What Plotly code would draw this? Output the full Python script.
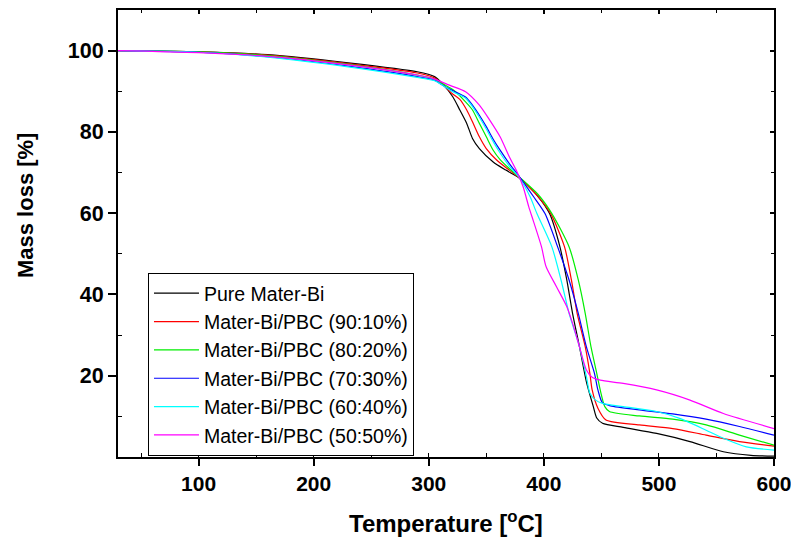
import plotly.graph_objects as go

# ---- data ----
series_names = [
    "Pure Mater-Bi",
    "Mater-Bi/PBC (90:10%)",
    "Mater-Bi/PBC (80:20%)",
    "Mater-Bi/PBC (70:30%)",
    "Mater-Bi/PBC (60:40%)",
    "Mater-Bi/PBC (50:50%)",
]
series_colors = ["#000000", "#ff0000", "#00ee00", "#0000ff", "#00ffff", "#ff00ff"]

pure_T = [30, 100, 160, 230, 290, 305, 312, 321, 327, 333, 338, 344, 356, 367, 379, 395, 405, 414, 420, 425, 431, 437, 443, 446, 451, 469, 498, 527, 556, 580, 600]
pure_M = [100, 99.7, 99.0, 97.0, 94.8, 93.6, 91.8, 88.6, 85.4, 82.1, 78.4, 75.9, 72.6, 70.6, 68.6, 64.1, 59.9, 51.7, 43.5, 35.3, 27.1, 18.5, 12.4, 9.6, 8.3, 7.3, 5.8, 3.8, 1.3, 0.4, 0.2]

pbc90_T = [30, 100, 160, 230, 290, 305, 312, 320, 327, 333, 338, 344, 350, 359, 370, 379, 395, 406, 418, 424, 429, 436, 440, 442, 447, 454, 483, 512, 541, 570, 600]
pbc90_M = [100, 99.7, 98.9, 96.8, 94.5, 93.3, 91.8, 89.5, 88.0, 85.4, 82.5, 78.8, 75.9, 73.1, 70.6, 68.6, 64.1, 59.9, 51.7, 43.5, 35.3, 27.1, 20.6, 16.5, 12.0, 9.1, 7.9, 7.0, 5.4, 3.8, 2.7]

pbc80_T = [30, 100, 160, 230, 290, 305, 312, 322, 332, 338, 344, 350, 356, 362, 370, 379, 395, 407, 422, 430, 436, 441, 446, 449, 453, 457, 483, 512, 541, 570, 600]
pbc80_M = [100, 99.7, 98.8, 96.6, 94.0, 93.0, 91.9, 90.2, 87.4, 85.4, 82.1, 78.8, 75.5, 73.2, 71.0, 68.8, 64.6, 59.9, 51.7, 43.5, 35.3, 27.1, 20.6, 16.5, 12.4, 11.2, 10.1, 9.3, 7.9, 5.4, 2.9]

pbc70_T = [30, 100, 160, 230, 290, 305, 312, 320, 332, 338, 344, 350, 356, 362, 370, 379, 391, 401, 412, 422, 430, 437, 444, 447, 451, 458, 483, 512, 541, 570, 600]
pbc70_M = [100, 99.6, 98.5, 96.2, 93.6, 92.7, 91.5, 90.3, 88.6, 86.6, 84.1, 81.3, 78.2, 75.5, 72.2, 68.9, 64.1, 59.9, 51.7, 43.5, 35.3, 27.1, 20.6, 16.5, 13.3, 12.6, 11.6, 10.6, 9.3, 7.5, 5.4]

pbc60_T = [30, 100, 160, 230, 290, 305, 312, 320, 332, 338, 344, 350, 356, 362, 370, 379, 388, 394, 407, 415, 422, 431, 437, 440, 445, 451, 469, 498, 518, 541, 556, 576, 600]
pbc60_M = [100, 99.6, 98.4, 96.0, 93.4, 92.6, 91.5, 90.0, 88.3, 86.2, 83.6, 80.7, 77.6, 74.8, 71.6, 68.6, 64.1, 59.9, 51.7, 43.5, 35.3, 27.1, 19.8, 15.7, 14.0, 13.2, 12.4, 11.2, 9.5, 6.6, 4.6, 2.5, 1.7]

pbc50_T = [30, 100, 160, 230, 290, 305, 318, 332, 344, 353, 362, 370, 376, 382, 387, 391, 398, 402, 411, 420, 425, 431, 437, 442, 449, 469, 498, 527, 556, 600]
pbc50_M = [100, 99.5, 98.6, 96.5, 94.0, 93.0, 91.5, 89.9, 86.6, 82.9, 78.8, 73.9, 70.6, 66.5, 61.5, 58.0, 51.7, 46.8, 41.9, 37.0, 32.9, 27.1, 21.4, 19.6, 18.9, 18.1, 16.5, 14.0, 10.7, 7.0]

series_T = [pure_T, pbc90_T, pbc80_T, pbc70_T, pbc60_T, pbc50_T]
series_M = [pure_M, pbc90_M, pbc80_M, pbc70_M, pbc60_M, pbc50_M]

x_range = [30, 600]
y_range = [0, 110]
y_tickvals = [20, 40, 60, 80, 100]
y_minorvals = [10, 30, 50, 70, 90]

FONT = "Liberation Sans, Arial, sans-serif"

fig = go.Figure()
for name, color, T, M in zip(series_names, series_colors, series_T, series_M):
    fig.add_trace(go.Scatter(
        x=T, y=M, name=name, mode="lines",
        line=dict(color=color, width=1.2, shape="spline", smoothing=0.7),
    ))

# invisible helper trace so the mirrored top/right frame axes get drawn
fig.add_trace(go.Scatter(x=x_range, y=y_range, xaxis="x2", yaxis="y2", mode="lines",
                         line=dict(width=0), opacity=0, showlegend=False, hoverinfo="skip"))

axis_common = dict(showline=True, linecolor="black", linewidth=2, showgrid=False,
                   zeroline=False, tickcolor="black", tickwidth=2, automargin=False)

fig.update_layout(
    width=791, height=537,
    margin=dict(l=118, r=17, t=10, b=80, autoexpand=False),
    plot_bgcolor="white", paper_bgcolor="white",
    font=dict(family=FONT, color="black"),
    xaxis=dict(range=x_range, dtick=100, tick0=0, ticks="outside", ticklen=7,
               tickfont=dict(size=21, family=FONT, weight="bold"), ticklabeloverflow="allow",
               minor=dict(dtick=50, tick0=0, ticks="inside", ticklen=4, tickcolor="black", tickwidth=1),
               **axis_common),
    yaxis=dict(range=y_range, tickmode="array", tickvals=y_tickvals, ticks="outside", ticklen=8,
               tickfont=dict(size=21.5, family=FONT, weight="bold"),
               minor=dict(tickmode="array", tickvals=y_minorvals, ticks="inside", ticklen=4,
                          tickcolor="black", tickwidth=1),
               **axis_common),
    xaxis2=dict(range=x_range, overlaying="x", side="top", dtick=100, tick0=0, ticks="inside",
                ticklen=4, showticklabels=False,
                minor=dict(dtick=50, tick0=0, ticks="inside", ticklen=3, tickcolor="black", tickwidth=1),
                **axis_common),
    yaxis2=dict(range=y_range, overlaying="y", side="right", tickmode="array", tickvals=y_tickvals,
                ticks="inside", ticklen=4, showticklabels=False,
                minor=dict(tickmode="array", tickvals=y_minorvals, ticks="inside", ticklen=3,
                           tickcolor="black", tickwidth=1),
                **axis_common),
    legend=dict(x=0.0457, y=0.4116, xanchor="left", yanchor="top",
                itemwidth=45,
                bgcolor="white", bordercolor="black", borderwidth=1,
                font=dict(size=19.5, family=FONT, color="black"),
                tracegroupgap=0),
    showlegend=True,
    annotations=[
        dict(text="Temperature [<sup>o</sup>C]", xref="paper", yref="paper",
             x=0.5, y=-0.145, xanchor="center", yanchor="middle", showarrow=False,
             font=dict(size=24, family=FONT, weight="bold", color="black")),
        dict(text="Mass loss [%]", xref="paper", yref="paper", textangle=-90,
             x=-0.14, y=0.564, xanchor="center", yanchor="middle", showarrow=False,
             font=dict(size=22, family=FONT, weight="bold", color="black")),
    ],
)

fig.write_html("out.html", config={"displayModeBar": False},
               post_script="document.body.style.margin='0';")
